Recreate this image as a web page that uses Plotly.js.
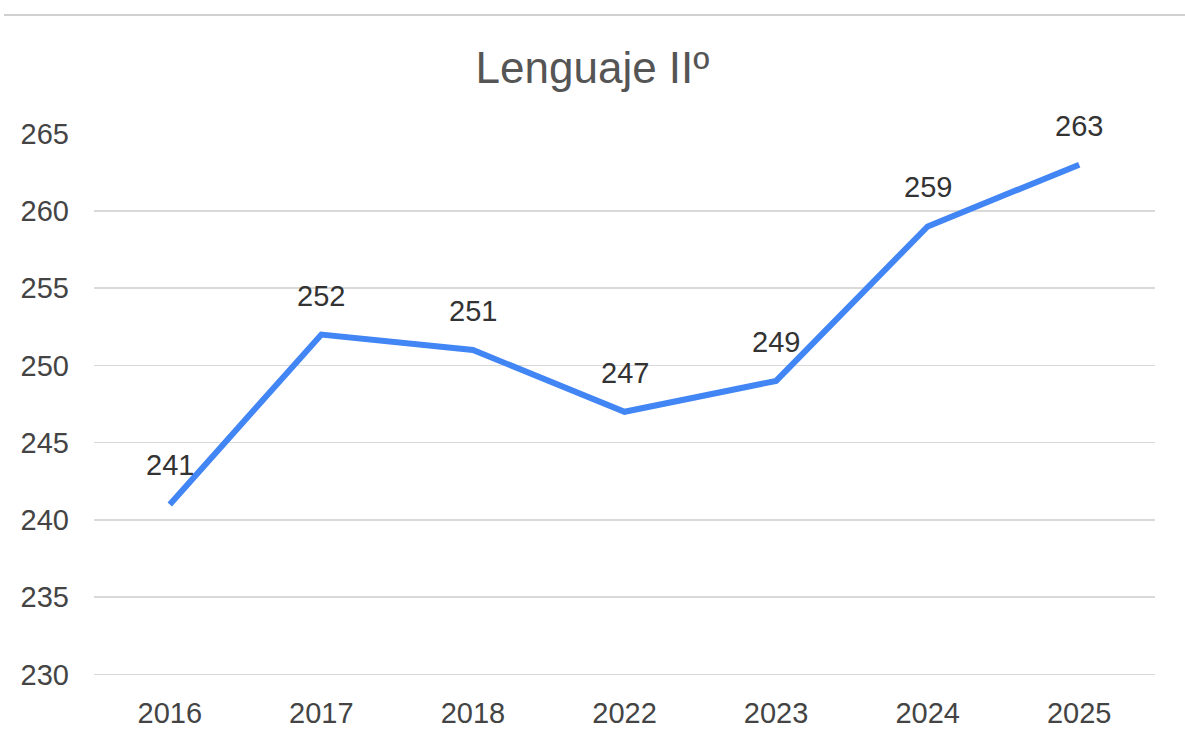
<!DOCTYPE html>
<html><head><meta charset="utf-8">
<script src="https://cdn.plot.ly/plotly-3.0.1.min.js"></script>
<style>html,body{margin:0;padding:0;background:#fff}#chart{width:1185px;height:742px}</style>
</head><body><div id="chart"></div>
<script>
const years = ['2016','2017','2018','2022','2023','2024','2025'];
const scores = [241, 252, 251, 247, 249, 259, 263];
const yTicks = [230, 235, 240, 245, 250, 255, 260, 265];
const chartTitle = 'Lenguaje IIº';

const FONT = 'Liberation Sans, Arial, sans-serif';
const trace = {
  x: years, y: scores, type: 'scatter', mode: 'lines',
  line: {color: '#4285F4', width: 6},
  hoverinfo: 'skip'
};
const annotations = years.map((yr, i) => ({
  x: i, y: scores[i], xref: 'x', yref: 'y',
  text: String(scores[i]), showarrow: false,
  yanchor: 'middle', xanchor: 'center', yshift: 39,
  font: {family: FONT, size: 29, color: '#333333'}
}));
const layout = {
  width: 1185, height: 742,
  margin: {l: 94, r: 30, t: 133, b: 63},
  paper_bgcolor: '#fff', plot_bgcolor: '#fff',
  title: {text: chartTitle, x: 0.5, xanchor: 'center', y: 1 - 68/742, yanchor: 'middle', yref: 'container',
          font: {family: FONT, size: 44, color: '#555555'}},
  showlegend: false,
  xaxis: {type: 'category', categoryorder: 'array', categoryarray: years, range: [-0.5, years.length - 0.5],
          showgrid: false, zeroline: false, showline: false, ticks: '',
          ticklabelstandoff: 14, tickfont: {family: FONT, size: 29, color: '#444444'}, fixedrange: true},
  yaxis: {range: [229.7, 265.05], tickvals: yTicks, ticktext: yTicks.map(String), showgrid: true,
          gridcolor: '#d9d9d9', gridwidth: 1.5, zeroline: false, showline: false, ticks: '',
          ticklabelstandoff: 24, tickfont: {family: FONT, size: 29, color: '#444444'}, fixedrange: true},
  annotations: annotations,
  shapes: [{type: 'line', xref: 'paper', yref: 'paper', x0: -90/1061, x1: 1 + 30/1061, y0: 1 + 118/546, y1: 1 + 118/546,
            line: {color: '#d0d0d0', width: 2}}]
};
Plotly.newPlot('chart', [trace], layout, {displayModeBar: false, staticPlot: true});
</script></body></html>
